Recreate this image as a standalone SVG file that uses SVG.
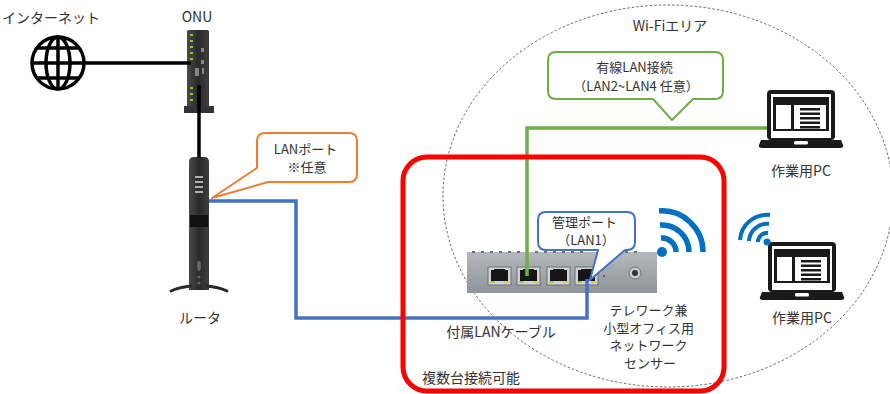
<svg xmlns="http://www.w3.org/2000/svg" xmlns:xlink="http://www.w3.org/1999/xlink" width="890" height="394" viewBox="0 0 890 394">
  <style>
    .lbl { font-family: "Noto Sans CJK JP", "Noto Sans", "Liberation Sans", sans-serif; font-size: 14px; fill: #333; }
    .sm { font-size: 13px; }
    .mid { text-anchor: middle; }
    .wire { fill: none; stroke-width: 3.5; stroke-linejoin: miter; }
    .black { stroke: #000; }
    .lan { stroke: #4472C4; }
    .green { stroke: #70AD47; }
    .callout { fill: #fff; stroke-width: 2; stroke-linejoin: round; }
    .wifi { fill: none; stroke: #0070C0; stroke-linecap: butt; }
  </style>
  <defs>
    <linearGradient id="boxGrad" x1="0" y1="0" x2="0" y2="1">
      <stop offset="0" stop-color="#b5b9be"/>
      <stop offset="1" stop-color="#8f949a"/>
    </linearGradient>
    <linearGradient id="darkGrad" x1="0" y1="0" x2="1" y2="0">
      <stop offset="0" stop-color="#4a4a4a"/>
      <stop offset="0.5" stop-color="#2a2a2a"/>
      <stop offset="1" stop-color="#3e3e3e"/>
    </linearGradient>
    <!-- laptop icon, origin at top-left of the screen -->
    <g id="laptop">
      <rect x="0" y="0" width="68" height="50" rx="4" fill="#1a1a1a"/>
      <rect x="4" y="4" width="60" height="44" fill="#fff"/>
      <rect x="6" y="7" width="56" height="34" fill="#1a1a1a"/>
      <rect x="9" y="15" width="15" height="24" fill="#fff"/>
      <rect x="27" y="15" width="32" height="24" fill="#fff"/>
      <rect x="33" y="18" width="20" height="2.5" fill="#1a1a1a"/>
      <rect x="33" y="22.5" width="20" height="2.5" fill="#1a1a1a"/>
      <rect x="33" y="27" width="20" height="2.5" fill="#1a1a1a"/>
      <rect x="33" y="31.5" width="20" height="2.5" fill="#1a1a1a"/>
      <rect x="33" y="36" width="20" height="2.5" fill="#1a1a1a"/>
      <path d="M-6,50 H74 L76,55 Q77,58 73,58 H-5 Q-9,58 -8,55 Z" fill="#1a1a1a"/>
      <rect x="27" y="51" width="14" height="3.5" rx="1.5" fill="#fff"/>
    </g>
    <!-- RJ45 port -->
    <g id="port">
      <rect x="0" y="0" width="23" height="18" fill="#d0d2d4" stroke="#6d7075" stroke-width="1"/>
      <rect x="3" y="3" width="17" height="11" fill="#151515"/>
      <rect x="6" y="2" width="11" height="2" fill="#151515"/>
      <rect x="2.5" y="14" width="4" height="2" fill="#9c3"/>
      <rect x="16.5" y="14" width="4" height="2" fill="#dc3"/>
    </g>
  </defs>

  <!-- wireless coverage -->
  <ellipse id="wifi-area" cx="668" cy="196" rx="225" ry="191" fill="none" stroke="#666" stroke-width="1" stroke-dasharray="2.5,2"/>
  <text class="lbl mid" x="670" y="31">Wi-Fiエリア</text>

  <!-- internet -->
  <g id="internet">
    <text class="lbl" x="2" y="23">インターネット</text>
    <g fill="none" stroke="#000" stroke-width="3.5">
      <circle cx="58" cy="63" r="26"/>
      <ellipse cx="58" cy="63" rx="12" ry="26"/>
      <line x1="58" y1="37" x2="58" y2="89"/>
      <line x1="32" y1="63" x2="84" y2="63"/>
      <line x1="37" y1="48" x2="79" y2="48"/>
      <line x1="37" y1="78" x2="79" y2="78"/>
    </g>
  </g>

  <!-- ONU -->
  <g id="onu">
    <text class="lbl mid" x="197" y="22">ONU</text>
    <rect x="187" y="30" width="22" height="80" rx="1.5" fill="url(#darkGrad)"/>
    <path d="M184,106 H214 V113 H184 Z" fill="#333"/>
    <g fill="#8c3">
      <rect x="190" y="34" width="3" height="2"/>
      <rect x="190" y="40" width="3" height="2"/>
      <rect x="190" y="46" width="3" height="2"/>
      <rect x="190" y="52" width="3" height="2"/>
      <rect x="190" y="58" width="3" height="2"/>
      <rect x="190" y="87" width="3" height="2"/>
      <rect x="190" y="93" width="3" height="2"/>
      <rect x="190" y="99" width="3" height="2"/>
    </g>
    <g fill="#888">
      <rect x="201" y="48" width="3" height="4"/>
      <rect x="201" y="60" width="3" height="4"/>
      <rect x="195" y="68" width="4" height="8"/>
      <rect x="202" y="68" width="2" height="6"/>
    </g>
  </g>

  <!-- router -->
  <g id="router">
    <path d="M189,290 V162 Q189,157 194,157 H204 Q209,157 209,162 V290 Z" fill="url(#darkGrad)"/>
    <g fill="#b0b0b0">
      <rect x="195" y="176" width="8" height="2"/>
      <rect x="195" y="181" width="8" height="2"/>
      <rect x="195" y="186" width="8" height="2"/>
      <rect x="195" y="191" width="8" height="2"/>
    </g>
    <rect x="190" y="215" width="18" height="12" fill="#111"/>
    <ellipse cx="199" cy="266" rx="2" ry="5" fill="#666"/>
    <circle cx="199" cy="277" r="1.5" fill="#666"/>
    <circle cx="199" cy="283" r="1.5" fill="#666"/>
    <g fill="none" stroke="#2a2a2a" stroke-width="3" stroke-linecap="round">
      <path d="M191,286 Q180,287 171,291"/>
      <path d="M207,286 Q218,287 227,291"/>
    </g>
    <text class="lbl mid" x="200" y="323">ルータ</text>
  </g>

  <!-- sensor device -->
  <g id="sensor">
    <rect x="467" y="252" width="190" height="41" fill="url(#boxGrad)"/>
    <g fill="#6f7378">
      <rect x="472" y="251" width="3" height="2"/>
      <rect x="481" y="251" width="3" height="2"/>
      <rect x="490" y="251" width="3" height="2"/>
      <rect x="499" y="251" width="3" height="2"/>
      <rect x="508" y="251" width="3" height="2"/>
      <rect x="517" y="251" width="3" height="2"/>
      <rect x="535" y="251" width="3" height="2"/>
      <rect x="544" y="251" width="3" height="2"/>
      <rect x="553" y="251" width="3" height="2"/>
      <rect x="562" y="251" width="3" height="2"/>
      <rect x="571" y="251" width="3" height="2"/>
      <rect x="580" y="251" width="3" height="2"/>
      <rect x="598" y="251" width="3" height="2"/>
      <rect x="607" y="251" width="3" height="2"/>
      <rect x="616" y="251" width="3" height="2"/>
      <rect x="625" y="251" width="3" height="2"/>
      <rect x="634" y="251" width="3" height="2"/>
    </g>
    <use xlink:href="#port" x="488" y="267"/>
    <use xlink:href="#port" x="517" y="267"/>
    <use xlink:href="#port" x="547" y="267"/>
    <use xlink:href="#port" x="575" y="267"/>
    <circle cx="604" cy="268" r="1" fill="#444"/>
    <circle cx="604" cy="276" r="1" fill="#444"/>
    <circle cx="635" cy="273" r="6" fill="#c9cbcd" stroke="#6d7075"/>
    <circle cx="635" cy="273" r="3" fill="#333"/>
    <g class="wifi" stroke-width="5.5">
      <path d="M661,238 A14,14 0 0 1 676,252"/>
      <path d="M660,225 A27,27 0 0 1 689,252"/>
      <path d="M659,211 A41,41 0 0 1 703,252"/>
    </g>
    <circle cx="662" cy="252" r="5" fill="#0070C0"/>
    <text class="lbl mid sm" x="650" y="315">
      <tspan x="650" y="315">テレワーク兼</tspan>
      <tspan x="650" y="332.5">小型オフィス用</tspan>
      <tspan x="650" y="350">ネットワーク</tspan>
      <tspan x="650" y="367.5">センサー</tspan>
    </text>
  </g>

  <!-- connectors -->
  <g id="connectors">
    <path class="wire black" d="M84,63 H191"/>
    <path class="wire black" d="M199,85 V158"/>
    <path class="wire lan" d="M209,201 H296 V318 H587 V279"/>
    <path class="wire green" d="M527,276 V128 H768"/>
  </g>

  <text class="lbl mid" x="501" y="337">付属LANケーブル</text>

  <!-- LAN port note on the router -->
  <g id="note-router-port">
    <path class="callout" stroke="#ED7D31" d="M265,133 H349 Q357,133 357,141 V174 Q357,182 349,182 H268 L212,198 L257,168 V141 Q257,133 265,133 Z"/>
    <text class="lbl mid sm" x="307" y="154">
      <tspan x="307" y="154">LANポート</tspan>
      <tspan x="307" y="172">※任意</tspan>
    </text>
  </g>

  <!-- management port note -->
  <g id="note-mgmt-port">
    <path class="callout" stroke="#4472C4" d="M546,212 H627 Q635,212 635,220 V242 Q635,250 627,250 H625 L590,280 L598,250 H546 Q538,250 538,242 V220 Q538,212 546,212 Z"/>
    <text class="lbl mid sm" x="586" y="227">
      <tspan x="586" y="227">管理ポート</tspan>
      <tspan x="586" y="244.5">（LAN1）</tspan>
    </text>
  </g>

  <!-- wired LAN note -->
  <g id="note-wired">
    <path class="callout" stroke="#70AD47" d="M556,52 H715 Q723,52 723,60 V91 Q723,99 715,99 H693 L672,120 L653,99 H556 Q548,99 548,91 V60 Q548,52 556,52 Z"/>
    <text class="lbl mid sm" x="636" y="72">
      <tspan x="636" y="72">有線LAN接続</tspan>
      <tspan x="636" y="90.5">（LAN2~LAN4 任意）</tspan>
    </text>
  </g>

  <!-- group of sensors -->
  <g id="sensor-group">
    <rect x="403" y="157" width="321" height="234" rx="24" fill="none" stroke="#FF0000" stroke-width="5"/>
    <text class="lbl" x="422" y="383">複数台接続可能</text>
  </g>

  <!-- wired PC -->
  <g id="pc-wired">
    <use xlink:href="#laptop" x="767" y="90"/>
    <text class="lbl mid" x="801" y="176">作業用PC</text>
  </g>

  <!-- wireless PC -->
  <g id="pc-wireless">
    <use xlink:href="#laptop" x="768" y="242"/>
    <g class="wifi" stroke-width="4">
      <path d="M768,233 A9,9 0 0 0 758,242"/>
      <path d="M769,224 A18,18 0 0 0 749,241"/>
      <path d="M770,215 A27,27 0 0 0 740,240"/>
    </g>
    <circle cx="767" cy="242" r="3.5" fill="#0070C0"/>
    <text class="lbl mid" x="802" y="323">作業用PC</text>
  </g>
</svg>
